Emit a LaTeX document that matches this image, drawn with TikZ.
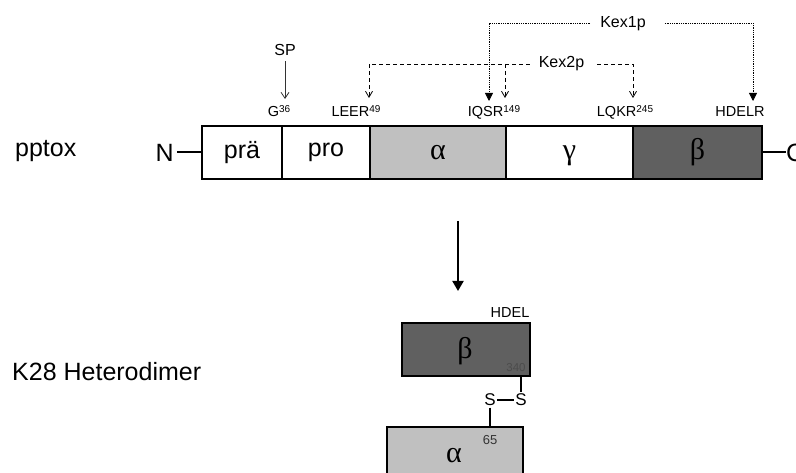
\documentclass[tikz,border=0pt]{standalone}
\usepackage{fontspec}
\setmainfont{Liberation Sans}
\newfontfamily\grk{Liberation Serif}
\usetikzlibrary{arrows.meta}
\definecolor{lightg}{HTML}{C0C0C0}
\definecolor{darkg}{HTML}{606060}
\newcommand{\supnum}[1]{\raisebox{4.5pt}{\fontsize{10}{12}\selectfont #1}}
\begin{document}
\begin{tikzpicture}[x=1pt,y=-1pt,
  seg/.style={draw=black, line width=2pt, minimum height=53pt, inner sep=0pt, outer sep=0pt,
    font=\fontsize{25}{28}\selectfont},
  grkt/.style={font=\fontsize{30}{34}\selectfont\grk},
  big/.style={font=\fontsize{25}{28}\selectfont, inner sep=0pt},
  lab/.style={font=\fontsize{14.5}{17}\selectfont, inner sep=0pt, anchor=base},
  enz/.style={font=\fontsize{16}{19}\selectfont, inner sep=0pt, anchor=base},
  tiny/.style={font=\fontsize{11.5}{13}\selectfont, inner sep=0pt, anchor=base},
  k1/.style={densely dotted, line width=0.8pt, -{Triangle[length=8pt,width=8pt]}},
  k2/.style={dashed, dash pattern=on 4pt off 3pt, line width=0.8pt, -{Straight Barb[length=6pt,width=7pt]}},
  link/.style={line width=2pt},
]
\useasboundingbox (0,0) rectangle (796,473);
\clip (0,0) rectangle (796,473);

% row labels
\node[big, anchor=base west] (pptox) at (15,157) {pptox};
\node[big, anchor=base west] (k28) at (12,381) {K28 Heterodimer};

% precursor bar
\node[seg, minimum width=80pt] (pra) at (242,152.5) {prä};
\node[seg, minimum width=88pt] (pro) at (326,152.5) {pro};
\node[seg, minimum width=136pt, fill=lightg] (alpha) at (438,152.5) {};
\node[seg, minimum width=127pt] (gamma) at (569.5,152.5) {};
\node[seg, minimum width=129pt, fill=darkg] (beta) at (697.5,152.5) {};
\node[grkt] (alphat) at (alpha.center) {α};
\node[grkt] (gammat) at ([yshift=-3pt]gamma.center) {γ};
\node[grkt] (betat) at (beta.center) {β};

\node[big, anchor=east, inner sep=0pt] (N) at (174,152.5) {N};
\node[big, anchor=west, inner sep=0pt] (C) at (786,152.5) {C};
\draw[link] ([xshift=3pt]N.east) -- (pra.west);
\draw[link] (beta.east) -- (C.west);

% site labels
\node[lab] (g36) at (279,117) {G\supnum{36}};
\node[lab] (leer) at (356,117) {LEER\supnum{49}};
\node[lab] (iqsr) at (494,117) {IQSR\supnum{149}};
\node[lab] (lqkr) at (625,117) {LQKR\supnum{245}};
\node[lab] (hdelr) at (740,117) {HDELR};

% SP
\node[enz] (sp) at (285,56) {SP};
\coordinate (spt) at (285,99);
\draw[line width=0.8pt, draw=black!80, -{Straight Barb[length=6pt,width=8pt]}] ([yshift=-5pt]sp.south) -- (spt);

% Kex2p
\node[enz] (kex2) at (561.5,68) {Kex2p};
\coordinate (k2l) at (369,64);
\coordinate (k2r) at (633,64);
\coordinate (k2m) at (505,64);
\coordinate (k2lt) at (369,98);
\coordinate (k2rt) at (633,98);
\coordinate (k2mt) at (505,98);
\draw[k2] ([xshift=-9pt]kex2.west |- k2l) -- (k2l) -- (k2lt);
\draw[k2] ([xshift=13pt]kex2.east |- k2r) -- (k2r) -- (k2rt);
\draw[k2] (k2m) -- (k2mt);

% Kex1p
\node[enz] (kex1) at (623,28) {Kex1p};
\coordinate (k1l) at (489,23);
\coordinate (k1r) at (753,23);
\coordinate (k1lt) at (489,101);
\coordinate (k1rt) at (753,101);
\draw[k1] ([xshift=-10pt]kex1.west |- k1l) -- (k1l) -- (k1lt);
\draw[k1] ([xshift=19pt]kex1.east |- k1r) -- (k1r) -- (k1rt);

% processing arrow
\coordinate (pa) at (458,221);
\coordinate (pb) at (458,291);
\draw[line width=2pt, -{Triangle[length=10pt,width=11pt]}] (pa) -- (pb);

% heterodimer
\node[draw=black, line width=2pt, fill=darkg, minimum width=128pt, minimum height=53pt, inner sep=0pt, outer sep=0pt] (hb) at (466,349.5) {};
\node[grkt] (hbt) at (465,351) {β};
\node[lab] (hdel) at (510,318) {HDEL};
\node[tiny, text=black!70] (n340) at (516,372) {340};
\node[draw=black, line width=2pt, fill=lightg, minimum width=136pt, minimum height=80pt, inner sep=0pt, outer sep=0pt] (ha) at (454.5,467) {};
\node[grkt] (hat) at (454,456) {α};
\node[font=\fontsize{13}{15}\selectfont, inner sep=0pt, anchor=base, text=black!80] (n65) at (490,444) {65};

\node[font=\fontsize{17}{19}\selectfont, inner sep=1.5pt] (s1) at (490,400) {S};
\node[font=\fontsize{17}{19}\selectfont, inner sep=1.5pt] (s2) at (521,400) {S};
\coordinate (hbj) at (521,376);
\coordinate (haj) at (490,427);
\draw[link] (hbj) -- (s2.north);
\draw[link] (s1.east) -- (s2.west);
\draw[link] (s1.south) -- (haj);
\end{tikzpicture}
\end{document}
